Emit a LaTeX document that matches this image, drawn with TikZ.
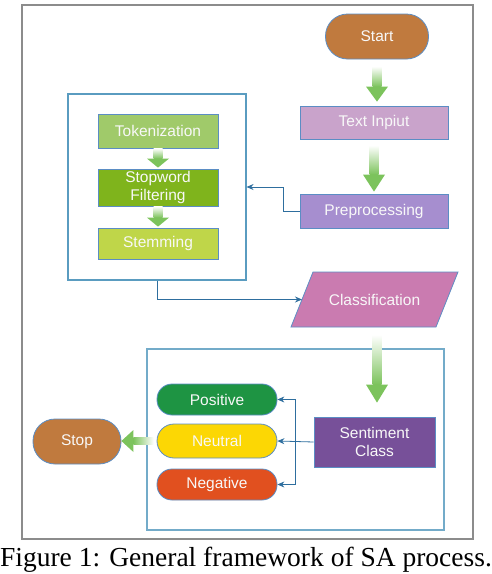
\documentclass[tikz,border=0pt]{standalone}
\usepackage{fontspec}
\setmainfont{Liberation Serif}
\newfontfamily\nodefont{Liberation Sans}
\usetikzlibrary{calc,arrows.meta}
\definecolor{ag}{HTML}{7CC35C}
\definecolor{bord}{HTML}{5B8DC4}
\definecolor{cont}{HTML}{5A9CC0}
\definecolor{conn}{HTML}{2E6E9E}
\definecolor{cstart}{HTML}{C07A3E}
\definecolor{ctxt}{HTML}{C9A3CB}
\definecolor{cpre}{HTML}{A68ECF}
\definecolor{ctok}{HTML}{A0CA6A}
\definecolor{cstw}{HTML}{7FB41C}
\definecolor{cstem}{HTML}{BFD649}
\definecolor{ccls}{HTML}{CA7BB0}
\definecolor{csent}{HTML}{775099}
\definecolor{cpos}{HTML}{1E9443}
\definecolor{cneu}{HTML}{FCD704}
\definecolor{cneg}{HTML}{E1501F}
\definecolor{txtw}{HTML}{F8F8F8}
\newcommand{\gdown}[4]{%
  \path let \p1=(#1), \p2=(#2) in
    [top color=white, bottom color=ag] (\x1-4.5pt,\y1) rectangle (\x1+4.5pt,\y2+#3);
  \fill[ag] let \p1=(#1), \p2=(#2) in
    (\x1-#4,\y2+#3) -- (\x1+#4,\y2+#3) -- (\x1,\y2) -- cycle;
}
\begin{document}
\begin{tikzpicture}[x=1pt,y=-1pt,
  box/.style={draw=bord, line width=0.8pt, inner sep=0pt, text=txtw,
    font=\nodefont\fontsize{15.5}{17.5}\selectfont, align=center},
  pill/.style={box, rounded corners=#1},
  contbox/.style={draw=cont, line width=1.1pt, inner sep=0pt},
  conline/.style={draw=conn, line width=0.8pt, -{Stealth[length=7pt,width=6pt]}}]
\useasboundingbox (0,0) rectangle (492,574);
\draw[draw=gray!90, line width=2pt] (22,5) rectangle (473,539);

% top right chain
\node[pill=22pt, fill=cstart, minimum width=103, minimum height=45] (start) at (377,36.5) {Start};
\node[box, fill=ctxt, minimum width=148, minimum height=33] (txt) at (374,122.5) {Text Inpiut};
\node[box, fill=cpre, minimum width=148, minimum height=34] (pre) at (374,211) {Preprocessing};

% left container
\node[contbox, minimum width=178, minimum height=186] (box1) at (157,187) {};
\node[box, fill=ctok, minimum width=120, minimum height=34] (tok) at (158,131) {Tokenization};
\node[box, fill=cstw, minimum width=120, minimum height=37] (stw) at (158,187.5) {Stopword\\Filtering};
\node[box, fill=cstem, minimum width=120, minimum height=31] (stem) at (158,243.5) {Stemming};

% classification parallelogram
\coordinate (clsTL) at (313,272);
\coordinate (clsTR) at (458,272);
\coordinate (clsBR) at (436,327);
\coordinate (clsBL) at (291,327);
\draw[draw=bord, line width=0.8pt, fill=ccls] (clsTL) -- (clsTR) -- (clsBR) -- (clsBL) -- cycle;
\node[text=txtw, font=\nodefont\fontsize{15.5}{17.5}\selectfont] (cls) at (374.5,299.5) {Classification};
\coordinate (clsL) at ($(clsTL)!0.5!(clsBL)$);

% lower container
\node[contbox, draw=cont!85, minimum width=297, minimum height=181] (box2) at (295.5,439.5) {};
\node[box, fill=csent, minimum width=121, minimum height=50] (sent) at (374.5,442) {Sentiment\\Class};
\node[pill=15pt, fill=cpos, minimum width=120, minimum height=31] (pos) at (217,399.5) {Positive};
\node[pill=17pt, fill=cneu, minimum width=120, minimum height=34] (neu) at (217,441) {Neutral};
\node[pill=15pt, fill=cneg, minimum width=120, minimum height=31] (neg) at (217,484.5) {Negative};
\node[pill=22pt, fill=cstart, minimum width=88, minimum height=45] (stop) at (77,441.5) {Stop};

% green arrows
\gdown{$(start.south)+(0,7)$}{$(txt.north)+(0,-4)$}{15pt}{11pt}
\gdown{$(txt.south)+(0,6)$}{$(pre.north)+(0,-2)$}{17pt}{11pt}
\gdown{$(cls.south)+(2.5,26)$}{$(sent.north)+(0,-14)$}{18pt}{11pt}
\gdown{$(tok.south)+(0,0)$}{$(stw.north)+(0,-1)$}{9pt}{11pt}
\gdown{$(stw.south)+(0,0)$}{$(stem.north)+(0,-1)$}{9pt}{11pt}
\path let \p1=($(neu.west)+(-3,0)$), \p2=(stop.east) in
  [left color=ag, right color=white] (\x2+12pt,\y1-3.5pt) rectangle (\x1,\y1+3.5pt);
\fill[ag] let \p1=(neu.west), \p2=(stop.east) in
  (\x2+12pt,\y1-11pt) -- (\x2+12pt,\y1+11pt) -- (\x2,\y1) -- cycle;

% blue connectors
\draw[conline] (pre.west) -- ++(-16,0) |- (box1.east);
\draw[conline] (box1.south) |- (clsL);
\coordinate (j) at (295,441);
\draw[conline] (sent.west) -- (neu.east);
\draw[conline] (j) |- (pos.east);
\draw[conline] (j) |- (neg.east);

% caption
\node[font=\fontsize{27.5}{30}\selectfont, inner sep=0pt] (cap) at (246,560) {Figure 1: General framework of SA process.};
\end{tikzpicture}
\end{document}
